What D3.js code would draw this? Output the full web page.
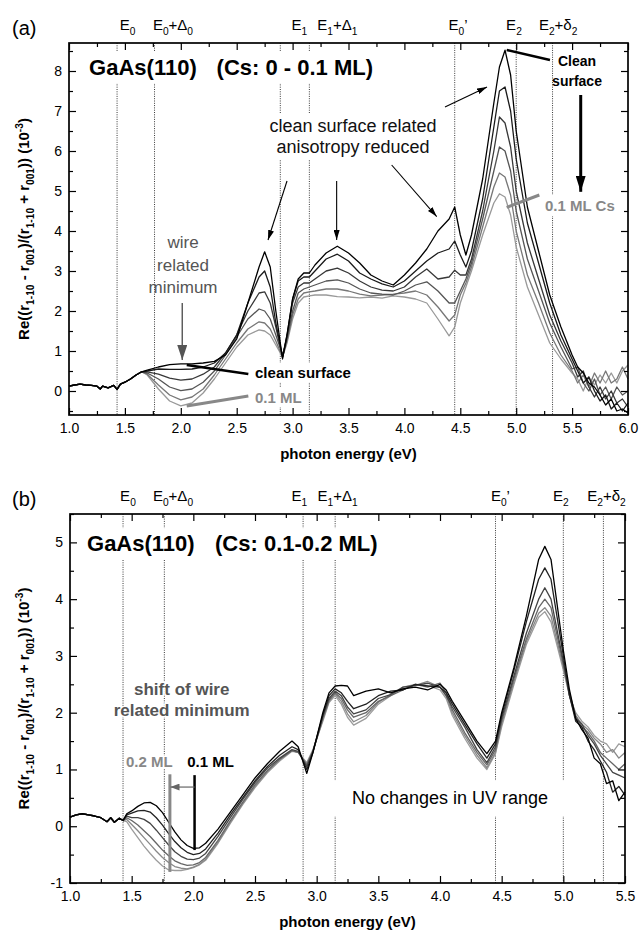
<!DOCTYPE html>
<html>
<head>
<meta charset="utf-8">
<script src="https://cdn.jsdelivr.net/npm/d3@7"></script>
<style>
  body { margin: 0; background: #fff; }
  svg { display: block; font-family: "Liberation Sans", Arial, sans-serif; }
  text { white-space: pre; }
  .frame { fill: none; stroke: #000; stroke-width: 1.7; }
  .tick line { stroke: #000; stroke-width: 1.2; }
  .domain { display: none; }
  .tick text { font-size: 14px; fill: #000; font-family: "Liberation Sans", Arial, sans-serif; }
  .eline { stroke: #222; stroke-width: 0.9; stroke-dasharray: 1,1.3; }
  .curve { fill: none; stroke-width: 1.3; stroke-linejoin: round; }
</style>
</head>
<body>
<svg width="640" height="932"></svg>
<script>

// ---------------- panel (a) : Cs 0 - 0.1 ML ----------------
var energyA = [1.0,1.05,1.1,1.15,1.2,1.25,1.28,1.3,1.35,1.4,1.43,1.46,1.5,1.55,1.6,1.65,
  1.7,1.8,1.9,2.0,2.1,2.2,2.3,2.4,2.5,2.6,2.7,2.75,2.8,2.85,2.91,2.95,3.0,3.05,3.1,3.15,3.2,
  3.3,3.4,3.5,3.6,3.7,3.8,3.9,4.0,4.1,4.2,4.3,4.4,4.45,4.5,4.55,4.6,4.7,4.8,4.85,4.9,4.95,
  5.0,5.1,5.2,5.3,5.4,5.5,5.55,5.6,5.65,5.7,5.75,5.8,5.85,5.9,5.95,6.0];

var startA = [0.12,0.15,0.17,0.15,0.14,0.12,0.05,0.12,0.08,0.14,0.04,0.17,0.22,0.3,0.4,0.48];

var a0 = startA.concat([0.52,0.6,0.66,0.68,0.68,0.7,0.74,0.9,1.3,2.2,3.1,3.48,3.1,2.0,0.8,1.4,2.3,2.8,2.95,2.95,3.15,
  3.45,3.62,3.45,3.2,2.9,2.75,2.65,2.9,3.2,3.55,4.0,4.3,4.6,3.9,3.4,3.9,5.3,7.2,8.1,8.52,7.9,
  6.5,4.6,3.5,2.4,1.6,0.9,0.6,0.45,0.2,0.1,-0.1,-0.35,-0.2,-0.5,-0.45,-0.55]);
var a1 = startA.concat([0.5,0.55,0.54,0.54,0.55,0.6,0.7,0.95,1.4,2.2,2.85,3.0,2.6,1.7,0.85,1.4,2.3,2.75,2.85,2.85,3.0,
  3.3,3.42,3.25,2.95,2.8,2.68,2.6,2.75,3.0,3.25,3.45,3.55,3.75,3.4,3.1,3.5,4.8,6.6,7.5,7.6,7.0,
  5.8,4.2,3.2,2.2,1.4,0.8,0.5,0.2,0.35,0.0,-0.25,-0.1,-0.45,-0.3,-0.5,-0.3]);
var a2 = startA.concat([0.48,0.42,0.32,0.27,0.3,0.42,0.6,0.95,1.4,2.0,2.45,2.48,2.2,1.6,0.85,1.35,2.2,2.6,2.7,2.7,2.8,
  3.0,3.07,2.95,2.75,2.6,2.52,2.5,2.6,2.85,3.05,2.8,2.85,3.02,2.9,2.9,3.3,4.5,6.0,6.85,6.7,6.1,
  5.0,3.7,2.8,1.9,1.25,0.7,0.35,0.5,0.1,-0.15,0.1,-0.2,0.0,-0.3,-0.2,-0.4]);
var a3 = startA.concat([0.45,0.3,0.1,0.01,0.05,0.22,0.5,0.9,1.35,1.8,2.05,2.0,1.8,1.4,0.9,1.3,2.0,2.45,2.55,2.6,2.65,
  2.75,2.78,2.7,2.55,2.45,2.42,2.4,2.5,2.65,2.73,2.5,2.2,2.2,2.5,2.8,3.2,4.3,5.5,6.1,6.0,5.5,
  4.5,3.3,2.5,1.7,1.1,0.55,0.6,0.2,0.0,0.3,-0.1,0.1,-0.2,0.1,-0.1,0.0]);
var a4 = startA.concat([0.42,0.15,-0.1,-0.22,-0.15,0.05,0.4,0.8,1.2,1.55,1.73,1.7,1.55,1.25,0.85,1.25,1.9,2.3,2.45,2.48,2.5,
  2.55,2.55,2.5,2.42,2.38,2.4,2.42,2.45,2.5,2.4,2.1,1.75,1.9,2.4,2.7,3.1,4.1,5.1,5.45,5.35,4.9,
  4.0,2.9,2.2,1.45,0.9,0.5,0.2,0.4,0.1,0.45,0.2,0.5,0.2,0.3,0.6,0.3]);
var a5 = startA.concat([0.4,0.05,-0.25,-0.37,-0.3,-0.05,0.3,0.7,1.1,1.4,1.53,1.5,1.4,1.15,0.85,1.2,1.8,2.2,2.35,2.38,2.4,
  2.4,2.36,2.35,2.33,2.35,2.32,2.38,2.35,2.3,2.2,1.8,1.38,1.6,2.2,2.6,3.0,3.9,4.7,4.93,4.85,4.4,
  3.6,2.6,1.9,1.2,0.8,0.45,0.3,0.0,0.35,0.15,0.4,0.2,0.45,0.2,0.5,0.65]);

var seriesA = [a0, a1, a2, a3, a4, a5];          // clean surface ... 0.1 ML
var colorsA = ["#000", "#1a1a1a", "#383838", "#555", "#777", "#999"];

// ---------------- panel (b) : Cs 0.1 - 0.2 ML ----------------
var energyB = [1.0,1.05,1.1,1.15,1.2,1.25,1.3,1.33,1.36,1.4,1.43,
  1.46,1.5,1.55,1.6,1.65,1.7,1.75,1.8,1.85,
  1.9,1.95,2.0,2.05,2.1,2.2,2.3,2.4,2.5,2.6,
  2.7,2.8,2.85,2.92,2.97,3.05,3.1,3.15,3.2,3.25,
  3.3,3.4,3.5,3.6,3.7,3.8,3.9,4.0,4.05,4.1,
  4.2,4.3,4.38,4.45,4.5,4.6,4.7,4.8,4.85,4.9,
  5.0,5.05,5.1,5.15,5.2,5.25,5.3,5.35,5.4,5.45,5.5];

var startB = [0.16,0.2,0.22,0.2,0.18,0.15,0.08,0.15,0.07,0.14,0.1];

var b0 = startB.concat([0.22,0.27,0.35,0.41,0.42,0.36,0.24,0.07,-0.1,
  -0.24,-0.34,-0.39,-0.38,-0.3,-0.05,0.25,0.55,0.85,1.1,
  1.32,1.5,1.4,0.93,1.3,2.0,2.35,2.47,2.48,2.47,
  2.3,2.38,2.42,2.35,2.42,2.45,2.4,2.5,2.4,2.2,
  1.85,1.5,1.28,1.5,2.0,2.8,3.7,4.7,4.93,4.7,
  3.1,2.4,1.9,1.7,1.55,1.2,1.1,0.75,0.8,0.45,0.6]);
var b1 = startB.concat([0.2,0.23,0.27,0.28,0.25,0.15,0.02,-0.13,-0.27,
  -0.38,-0.46,-0.5,-0.48,-0.4,-0.12,0.2,0.5,0.8,1.05,
  1.25,1.4,1.35,1.0,1.3,1.95,2.3,2.42,2.35,2.2,
  2.07,2.15,2.3,2.38,2.4,2.5,2.47,2.45,2.35,2.15,
  1.8,1.45,1.2,1.45,1.95,2.75,3.6,4.35,4.55,4.35,
  3.0,2.3,1.85,1.75,1.5,1.35,1.15,0.95,0.6,0.7,0.55]);
var b2 = startB.concat([0.18,0.15,0.15,0.12,0.05,-0.07,-0.2,-0.33,-0.45,
  -0.53,-0.58,-0.59,-0.56,-0.48,-0.18,0.15,0.47,0.77,1.02,
  1.2,1.35,1.32,1.05,1.32,1.95,2.25,2.38,2.3,2.1,
  1.98,2.05,2.25,2.32,2.45,2.48,2.52,2.45,2.3,2.1,
  1.75,1.35,1.12,1.4,1.9,2.65,3.4,4.0,4.2,4.0,
  2.9,2.3,1.9,1.8,1.6,1.45,1.25,1.1,0.95,0.9,0.85]);
var b3 = startB.concat([0.15,0.1,0.02,-0.08,-0.18,-0.3,-0.42,-0.52,-0.61,
  -0.66,-0.69,-0.68,-0.64,-0.55,-0.25,0.1,0.42,0.73,0.98,
  1.18,1.33,1.3,1.08,1.32,1.9,2.22,2.35,2.25,2.05,
  1.92,2.0,2.2,2.3,2.4,2.5,2.45,2.52,2.35,2.05,
  1.65,1.3,1.08,1.35,1.85,2.6,3.3,3.85,4.0,3.85,
  2.85,2.35,1.95,1.75,1.65,1.5,1.3,1.2,1.1,1.0,1.1]);
var b4 = startB.concat([0.12,0.03,-0.08,-0.2,-0.32,-0.44,-0.55,-0.64,-0.71,
  -0.74,-0.75,-0.72,-0.67,-0.58,-0.28,0.07,0.4,0.7,0.96,
  1.17,1.33,1.3,1.1,1.33,1.88,2.2,2.33,2.2,1.98,
  1.84,1.95,2.18,2.32,2.42,2.48,2.55,2.45,2.3,2.0,
  1.6,1.25,1.03,1.3,1.8,2.55,3.25,3.75,3.85,3.7,
  2.8,2.3,1.95,1.8,1.7,1.55,1.45,1.3,1.35,1.2,1.3]);
var b5 = startB.concat([0.08,-0.05,-0.2,-0.35,-0.48,-0.6,-0.7,-0.77,-0.78,
  -0.78,-0.76,-0.73,-0.68,-0.6,-0.3,0.05,0.38,0.68,0.94,
  1.15,1.32,1.3,1.12,1.35,1.85,2.18,2.3,2.15,1.92,
  1.78,1.9,2.15,2.3,2.45,2.5,2.48,2.4,2.25,1.95,
  1.55,1.2,1.0,1.28,1.75,2.5,3.2,3.68,3.78,3.6,
  2.75,2.3,2.0,1.85,1.75,1.6,1.5,1.45,1.3,1.45,1.4]);

var seriesB = [b0, b1, b2, b3, b4, b5];          // 0.1 ML ... 0.2 ML
var colorsB = ["#000", "#222", "#444", "#666", "#888", "#9c9c9c"];

// ---------------- critical points (eV) ----------------
var cpNames = ["E0", "E0+D0", "E1", "E1+D1", "E0p", "E2", "E2+d2"];
var cpEnergy = [1.43, 1.765, 2.89, 3.15, 4.45, 5.0, 5.325];
var cpLabelA = [1.525, 1.93, 3.06, 3.4, 4.48, 4.98, 5.375];
var cpLabelB = [1.47, 1.835, 2.86, 3.17, 4.49, 4.98, 5.35];
var cpText = [
  [["E",""],["0","sub"]],
  [["E",""],["0","sub"],["+\u0394",""],["0","sub"]],
  [["E",""],["1","sub"]],
  [["E",""],["1","sub"],["+\u0394",""],["1","sub"]],
  [["E",""],["0","sub"],["\u2019",""]],
  [["E",""],["2","sub"]],
  [["E",""],["2","sub"],["+\u03b4",""],["2","sub"]]
];

// ---------------- ticks ----------------
var xMajorA = d3.range(1, 6.01, 0.5), xMinorA = d3.range(1.25, 6, 0.5);
var yMajorA = d3.range(0, 8.01, 1),   yMinorA = d3.range(-0.5, 8.6, 1);
var xMajorB = d3.range(1, 5.51, 0.5), xMinorB = d3.range(1.25, 5.5, 0.5);
var yMajorB = d3.range(-1, 5.01, 1),  yMinorB = d3.range(-0.5, 5.6, 1);

var yLabelParts = [["Re((r",""],["1-10","sub"],[" - r",""],["001","sub"],[")/(r",""],["1-10","sub"],
  [" + r",""],["001","sub"],[")) (10",""],["-3","sup"],[")",""]];

var svg = d3.select("svg");

// arrowheads
var defs = svg.append("defs");
function marker(id, len, half, color) {
  defs.append("marker").attr("id", id)
    .attr("viewBox", "0 " + (-half) + " " + len + " " + (2 * half))
    .attr("markerUnits", "userSpaceOnUse")
    .attr("markerWidth", len).attr("markerHeight", 2 * half)
    .attr("refX", len).attr("refY", 0).attr("orient", "auto")
    .append("path").attr("d", "M0," + (-half) + "L" + len + ",0L0," + half + "Z").attr("fill", color);
}
marker("thin", 10, 3, "#000");
marker("thick", 16, 5, "#000");
marker("grayWide", 15, 5, "#555");
marker("graySmall", 9, 3.5, "#666");

function rich(sel, parts, size) {
  var shift = 0;
  parts.forEach(function(p) {
    var target = p[1] === "sub" ? size * 0.3 : (p[1] === "sup" ? -size * 0.38 : 0);
    sel.append("tspan").attr("dy", target - shift)
      .attr("font-size", p[1] ? size * 0.68 : size).text(p[0]);
    shift = target;
  });
}

function drawPanel(p) {
  var x = d3.scaleLinear().domain(p.xDom).range([p.left, p.right]);
  var y = d3.scaleLinear().domain(p.yDom).range([p.bottom, p.top]);
  var g = svg.append("g");

  // critical point lines
  g.selectAll(".eline").data(cpEnergy).enter().append("line").attr("class", "eline")
    .attr("x1", function(d) { return x(d); }).attr("x2", function(d) { return x(d); })
    .attr("y1", p.top).attr("y2", p.bottom);

  // labels above
  cpText.forEach(function(parts, i) {
    var t = g.append("text").attr("x", x(p.cpLabel[i])).attr("y", p.top - 13)
      .attr("text-anchor", "middle").attr("font-size", 15);
    rich(t, parts, 15);
  });

  var annot = g.append("g");

  // curves (light first so black lies on top)
  var line = d3.line().x(function(d) { return x(d[0]); }).y(function(d) { return y(d[1]); });
  var idx = d3.range(p.series.length).reverse();
  g.selectAll(".curve").data(idx).enter().append("path").attr("class", "curve")
    .attr("stroke", function(i) { return p.colors[i]; })
    .attr("d", function(i) { return line(p.energy.map(function(e, k) { return [e, p.series[i][k]]; })); });

  // axes
  var bottom = g.append("g").attr("transform", "translate(0," + p.bottom + ")");
  bottom.append("g").call(d3.axisBottom(x).tickValues(p.xMajor).tickSize(-7).tickPadding(8).tickFormat(d3.format(".1f")));
  bottom.append("g").call(d3.axisBottom(x).tickValues(p.xMinor).tickSize(-4).tickFormat(""));
  var topAx = g.append("g").attr("transform", "translate(0," + p.top + ")");
  topAx.append("g").call(d3.axisTop(x).tickValues(p.xMajor).tickSize(-7).tickFormat(""));
  topAx.append("g").call(d3.axisTop(x).tickValues(p.xMinor).tickSize(-4).tickFormat(""));
  var leftAx = g.append("g").attr("transform", "translate(" + p.left + ",0)");
  leftAx.append("g").call(d3.axisLeft(y).tickValues(p.yMajor).tickSize(-7).tickPadding(7).tickFormat(function(d) { return String(d); }));
  leftAx.append("g").call(d3.axisLeft(y).tickValues(p.yMinor).tickSize(-4).tickFormat(""));
  var rightAx = g.append("g").attr("transform", "translate(" + p.right + ",0)");
  rightAx.append("g").call(d3.axisRight(y).tickValues(p.yMajor).tickSize(-7).tickFormat(""));
  rightAx.append("g").call(d3.axisRight(y).tickValues(p.yMinor).tickSize(-4).tickFormat(""));

  g.append("rect").attr("class", "frame").attr("x", p.left).attr("y", p.top)
    .attr("width", p.right - p.left).attr("height", p.bottom - p.top);

  // axis titles
  g.append("text").attr("x", (p.left + p.right) / 2).attr("y", p.bottom + 44)
    .attr("text-anchor", "middle").attr("font-size", 15).attr("font-weight", "bold")
    .text("photon energy (eV)");
  var yl = g.append("text").attr("text-anchor", "middle").attr("font-weight", "bold")
    .attr("transform", "translate(29," + (p.top + p.bottom) / 2 + ") rotate(-90)");
  rich(yl, yLabelParts, 15);

  g.append("text").attr("x", 12).attr("y", p.top - 8).attr("font-size", 20).text(p.tag);

  // annotations
  p.texts.forEach(function(t) {
    var el = annot.append("text").attr("x", x(t.at[0])).attr("y", y(t.at[1]))
      .attr("text-anchor", t.anchor || "start").attr("font-size", t.size)
      .attr("font-weight", t.bold ? "bold" : null).attr("fill", t.color || "#000").text(t.s);
    if (t.box) {
      var bb = el.node().getBBox();
      annot.insert("rect", "text").attr("x", bb.x - t.box[0]).attr("y", bb.y - t.box[1])
        .attr("width", bb.width + 2 * t.box[0]).attr("height", bb.height + 2 * t.box[1]).attr("fill", "#fff");
    }
    if (t.halo) el.attr("stroke", "#fff").attr("stroke-width", 3).attr("paint-order", "stroke");
  });
  p.lines.forEach(function(l) {
    annot.append("line").attr("x1", x(l.from[0])).attr("y1", y(l.from[1]))
      .attr("x2", x(l.to[0])).attr("y2", y(l.to[1]))
      .attr("stroke", l.color).attr("stroke-width", l.w)
      .attr("marker-end", l.head ? "url(#" + l.head + ")" : null);
  });
  g.node().appendChild(annot.node());
}

drawPanel({
  tag: "(a)", top: 43, bottom: 415, left: 69, right: 628,
  xDom: [1, 6], yDom: [-0.6, 8.7],
  xMajor: xMajorA, xMinor: xMinorA, yMajor: yMajorA, yMinor: yMinorA,
  energy: energyA, series: seriesA, colors: colorsA, cpLabel: cpLabelA,
  texts: [
    { s: "GaAs(110)", at: [1.18, 7.9], size: 22, bold: true, box: [3, 3] },
    { s: "(Cs: 0 - 0.1 ML)", at: [2.32, 7.9], size: 22, bold: true, box: [3, 3] },
    { s: "clean surface related", at: [3.54, 6.475], size: 18, anchor: "middle", color: "#111", box: [2, 2] },
    { s: "anisotropy reduced", at: [3.54, 5.95], size: 18, anchor: "middle", color: "#111", box: [2, 2] },
    { s: "Clean", at: [5.544, 8.125], size: 14, bold: true, anchor: "middle" },
    { s: "surface", at: [5.544, 7.625], size: 14, bold: true, anchor: "middle" },
    { s: "0.1 ML Cs", at: [5.258, 4.5], size: 15, bold: true, color: "#888", box: [2, 2] },
    { s: "wire", at: [2.02, 3.575], size: 17, anchor: "middle", color: "#555" },
    { s: "related", at: [2.02, 3.0], size: 17, anchor: "middle", color: "#555" },
    { s: "minimum", at: [2.02, 2.45], size: 17, anchor: "middle", color: "#555" },
    { s: "clean surface", at: [2.664, 0.325], size: 15, bold: true, box: [2, 1] },
    { s: "0.1 ML", at: [2.664, -0.3], size: 15, bold: true, color: "#888", box: [2, 1] }
  ],
  lines: [
    { from: [4.915, 8.525], to: [5.302, 8.275], color: "#000", w: 2.5 },
    { from: [4.915, 4.59], to: [5.207, 4.9], color: "#888", w: 3 },
    { from: [2.053, 0.65], to: [2.604, 0.425], color: "#000", w: 2.5 },
    { from: [2.053, -0.375], to: [2.604, -0.125], color: "#888", w: 3 },
    { from: [2.95, 5.25], to: [2.78, 3.775], color: "#000", w: 1.1, head: "thin" },
    { from: [3.394, 5.25], to: [3.394, 3.775], color: "#000", w: 1.1, head: "thin" },
    { from: [3.886, 5.65], to: [4.289, 4.36], color: "#000", w: 1.1, head: "thin" },
    { from: [4.363, 7.1], to: [4.739, 7.6], color: "#000", w: 1.1, head: "thin" },
    { from: [5.577, 7.4], to: [5.577, 4.98], color: "#000", w: 3, head: "thick" },
    { from: [2.013, 2.2], to: [2.013, 0.775], color: "#555", w: 1.4, head: "grayWide" }
  ]
});

drawPanel({
  tag: "(b)", top: 514, bottom: 883, left: 70, right: 625,
  xDom: [1, 5.5], yDom: [-1, 5.5],
  xMajor: xMajorB, xMinor: xMinorB, yMajor: yMajorB, yMinor: yMinorB,
  energy: energyB, series: seriesB, colors: colorsB, cpLabel: cpLabelB,
  texts: [
    { s: "GaAs(110)", at: [1.138, 4.847], size: 22, bold: true, box: [3, 3] },
    { s: "(Cs: 0.1-0.2 ML)", at: [2.176, 4.847], size: 22, bold: true, box: [3, 3] },
    { s: "shift of wire", at: [1.906, 2.32], size: 17, bold: true, anchor: "middle", color: "#555", halo: true },
    { s: "related minimum", at: [1.906, 1.937], size: 17, bold: true, anchor: "middle", color: "#555", halo: true },
    { s: "0.2 ML", at: [1.454, 1.04], size: 15, bold: true, color: "#888", halo: true },
    { s: "0.1 ML", at: [1.951, 1.04], size: 15, bold: true, halo: true },
    { s: "No changes in UV range", at: [4.081, 0.387], size: 18, anchor: "middle", box: [18, 8] }
  ],
  lines: [
    { from: [2.01, 0.9], to: [2.01, -0.42], color: "#000", w: 2.5 },
    { from: [1.81, 0.915], to: [1.81, -0.805], color: "#888", w: 3 },
    { from: [2.01, 0.69], to: [1.815, 0.69], color: "#666", w: 1.2, head: "graySmall" }
  ]
});

</script>
</body>
</html>
